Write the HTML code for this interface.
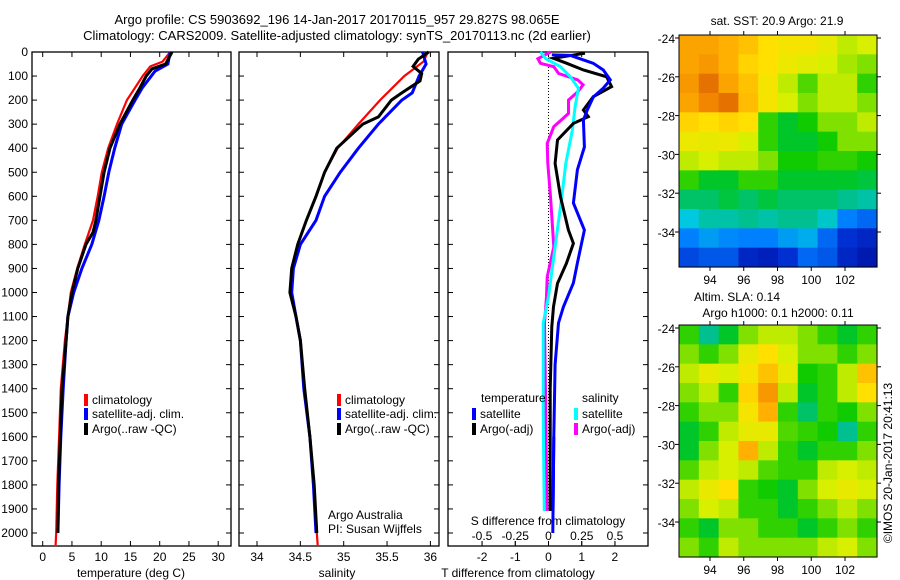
<!DOCTYPE html>
<html><head><meta charset="utf-8"><style>
body{margin:0;background:#fff}
svg{display:block;font-family:"Liberation Sans",sans-serif;font-size:12px}
</style></head><body>
<svg id="fig" width="900" height="580" viewBox="0 0 900 580" xmlns="http://www.w3.org/2000/svg">
<text x="337" y="24" text-anchor="middle" font-size="13">Argo profile: CS 5903692_196 14-Jan-2017 20170115_957 29.827S 98.065E</text>
<text x="337" y="40" text-anchor="middle" font-size="13">Climatology: CARS2009. Satellite-adjusted climatology: synTS_20170113.nc (2d earlier)</text>
<g id="p1"></g>
<g id="p2"></g>
<g id="p3"></g>
<g id="m1"></g>
<g id="m2"></g>
<text transform="translate(892,463) rotate(-90)" text-anchor="middle">©IMOS 20-Jan-2017 20:41:13</text>
</svg>
<script>
// ---- data ----
const depthTicks=[0,100,200,300,400,500,600,700,800,900,1000,1100,1200,1300,1400,1500,1600,1700,1800,1900,2000];
const tempTicks=[0,5,10,15,20,25,30];
const salTicks=[34,34.5,35,35.5,36];
const tdiffTicks=[-2,-1,0,1,2];
const sdiffTicks=[-0.5,-0.25,0,0.25,0.5];
const tClimDepth=[0,40,60,100,200,300,400,500,600,700,800,900,1000,1200,1400,1600,1800,2000,2050];
const tClim=[21.8,20.5,18.4,17.1,14.4,12.7,11.2,10.1,9.4,8.6,7.2,5.9,4.8,3.8,3.1,2.8,2.5,2.3,2.2];
const tSatDepth=[0,50,80,150,200,300,400,500,600,700,800,900,1000,1100,1200,1400,1600,1800,2000];
const tSat=[21.8,21.4,19.2,17,15.8,13.5,12.3,11.3,10.5,9.6,8.4,6.7,5.3,4.3,4.0,3.5,3.1,2.8,2.6];
const tArgoDepth=[0,50,70,100,150,200,300,400,500,600,700,750,800,900,1000,1100,1200,1400,1600,1800,2000];
const tArgo=[22.1,21,18.7,17.7,16.6,15.4,13.2,11.5,10.5,9.8,9.1,8.6,7.4,6.0,5.0,4.3,4.0,3.3,3.0,2.7,2.6];
const sClimDepth=[0,40,100,200,300,400,500,600,700,800,900,1000,1100,1200,1400,1600,1800,2000,2050];
const sClim=[35.97,35.92,35.7,35.42,35.17,34.93,34.78,34.68,34.57,34.47,34.4,34.38,34.45,34.5,34.55,34.61,34.66,34.69,34.7];
const sSatDepth=[0,50,100,170,200,300,400,500,600,700,800,900,1000,1100,1200,1400,1600,1800,2000];
const sSat=[35.91,35.95,35.87,35.79,35.67,35.4,35.17,34.96,34.78,34.68,34.5,34.42,34.4,34.45,34.5,34.54,34.61,34.65,34.68];
const sArgoDepth=[0,30,60,90,120,170,200,270,300,400,500,600,700,800,900,1000,1100,1200,1400,1600,1800,2000];
const sArgo=[35.98,35.86,35.8,35.9,35.88,35.67,35.55,35.4,35.22,34.92,34.78,34.68,34.57,34.47,34.4,34.38,34.45,34.5,34.55,34.61,34.66,34.69];
const dTSatDepth=[12,14,47,75,116,150,187,241,283,395,490,628,740,877,960,1060,1127,1300,1600,2000];
const dTSat=[0.1,0.66,1.35,1.65,1.86,1.65,1.35,1.17,1.05,1.08,0.87,0.75,1.08,0.87,0.75,0.45,0.3,0.2,0.16,0.13];
const dTArgoDepth=[5,26,47,75,103,144,186,241,269,297,366,463,602,740,796,879,962,1059,1142,1400,2000];
const dTArgo=[1.1,0.15,0.55,1.05,1.75,1.9,1.35,1.05,1.2,0.75,0.27,0.2,0.36,0.6,0.75,0.54,0.27,0.15,0.1,0.05,0.05];
const dSSatDepth=[0,28,61,103,151,227,324,463,602,810,1017,1128,1500,2000];
const dSSat=[-0.06,-0.02,0.09,0.165,0.225,0.2,0.18,0.13,0.1,0.05,0.0,-0.04,-0.04,-0.03];
const dSArgoDepth=[0,28,47,61,89,116,137,165,200,255,276,310,380,463,602,810,935,1017,1128,1500,2000];
const dSArgo=[0.015,-0.08,-0.06,0.04,0.075,0.22,0.26,0.22,0.15,0.15,0.11,0.04,-0.01,-0.005,0.015,0.04,-0.01,-0.015,-0.03,-0.02,-0.01];
const lonTicks=[94,96,98,100,102];
const latTicks=[-24,-26,-28,-30,-32,-34];
const sstGrid=[
[0.8,0.8,0.78,0.75,0.7,0.68,0.68,0.65,0.6,0.62],
[0.8,0.82,0.78,0.72,0.7,0.66,0.64,0.62,0.58,0.55],
[0.82,0.88,0.8,0.75,0.68,0.6,0.52,0.6,0.6,0.5],
[0.8,0.85,0.88,0.76,0.68,0.62,0.55,0.6,0.6,0.55],
[0.72,0.7,0.72,0.7,0.5,0.45,0.48,0.55,0.55,0.6],
[0.66,0.65,0.66,0.62,0.5,0.45,0.45,0.48,0.55,0.55],
[0.6,0.62,0.6,0.6,0.55,0.48,0.48,0.5,0.5,0.48],
[0.5,0.45,0.45,0.5,0.5,0.45,0.45,0.45,0.45,0.44],
[0.42,0.42,0.44,0.42,0.44,0.42,0.42,0.42,0.4,0.38],
[0.33,0.38,0.38,0.4,0.38,0.4,0.4,0.35,0.25,0.22],
[0.25,0.28,0.26,0.25,0.25,0.28,0.3,0.22,0.15,0.12],
[0.18,0.2,0.2,0.12,0.1,0.15,0.22,0.2,0.12,0.08]];
const slaGrid=[
[0.5,0.4,0.45,0.55,0.6,0.6,0.55,0.5,0.45,0.5],
[0.55,0.5,0.55,0.65,0.7,0.62,0.55,0.55,0.5,0.55],
[0.6,0.65,0.62,0.68,0.75,0.65,0.48,0.5,0.6,0.75],
[0.55,0.6,0.5,0.72,0.82,0.6,0.45,0.5,0.6,0.7],
[0.5,0.55,0.55,0.68,0.78,0.5,0.42,0.5,0.48,0.55],
[0.45,0.5,0.6,0.65,0.65,0.52,0.5,0.48,0.4,0.5],
[0.45,0.55,0.62,0.78,0.6,0.5,0.45,0.5,0.5,0.55],
[0.52,0.6,0.62,0.6,0.52,0.5,0.5,0.6,0.62,0.6],
[0.6,0.65,0.7,0.5,0.48,0.45,0.55,0.62,0.65,0.62],
[0.55,0.62,0.6,0.5,0.5,0.45,0.5,0.55,0.6,0.55],
[0.5,0.45,0.55,0.55,0.5,0.5,0.45,0.5,0.55,0.5],
[0.55,0.5,0.6,0.55,0.55,0.55,0.55,0.6,0.62,0.55]];

const NS='http://www.w3.org/2000/svg';
function mk(parent,tag,attrs,txt){const e=document.createElementNS(NS,tag);for(const k in attrs)e.setAttribute(k,attrs[k]);if(txt!==undefined)e.textContent=txt;parent.appendChild(e);return e;}
const yD=d=>52+d*0.2405;
const PT=546;
function frame(g,x0,x1){const r=mk(g,'rect',{x:x0,y:52,width:x1-x0,height:PT-52,fill:'none',stroke:'#000','stroke-width':1.3});


depthTicks.forEach(d=>{mk(g,'line',{x1:x0,x2:x0+5,y1:yD(d),y2:yD(d),stroke:'#000'});mk(g,'line',{x1:x1,x2:x1-5,y1:yD(d),y2:yD(d),stroke:'#000'});});}
function xticks(g,vals,fx,lbl,fmt){vals.forEach(v=>{const x=fx(v);mk(g,'line',{x1:x,x2:x,y1:PT,y2:PT-5,stroke:'#000'});mk(g,'line',{x1:x,x2:x,y1:52,y2:57,stroke:'#000'});
const t=mk(g,'text',{x:x,y:561,'text-anchor':'middle'},fmt?fmt(v):String(v));

});}
function line(g,xs,ds,fx,col,w,name){const pts=xs.map((v,i)=>fx(v).toFixed(1)+','+yD(ds[i]).toFixed(1)).join(' ');
const p=mk(g,'polyline',{points:pts,fill:'none',stroke:col,'stroke-width':w,'stroke-linejoin':'miter'});

}
function legend(g,x,y,col,label){mk(g,'rect',{x:x,y:y-10,width:4,height:12,fill:col});const t=mk(g,'text',{x:x+8,y:y},label);

}

// panel 1
const p1=document.getElementById('p1');
const fT=v=>42.7+v*5.85;
frame(p1,32,231);
depthTicks.forEach(d=>{const t=mk(p1,'text',{x:28,y:yD(d)+4,'text-anchor':'end'},String(d));

});
xticks(p1,tempTicks,fT);
mk(p1,'text',{x:131,y:577,'text-anchor':'middle'},'temperature (deg C)');
line(p1,tClim,tClimDepth,fT,'#f00',2.2,'temp-climatology-line');
line(p1,tSat,tSatDepth,fT,'#00f',3,'temp-satellite-line');
line(p1,tArgo,tArgoDepth,fT,'#000',3,'temp-argo-line');
legend(p1,84,404,'#f00','climatology');legend(p1,84,418,'#00f','satellite-adj. clim.');legend(p1,84,433,'#000','Argo(..raw -QC)');

// panel 2
const p2=document.getElementById('p2');
const fS=v=>257+(v-34)*86.7;
frame(p2,239,439);
xticks(p2,salTicks,fS);
mk(p2,'text',{x:337,y:577,'text-anchor':'middle'},'salinity');
line(p2,sClim,sClimDepth,fS,'#f00',2.2,'sal-climatology-line');
line(p2,sSat,sSatDepth,fS,'#00f',3,'sal-satellite-line');
line(p2,sArgo,sArgoDepth,fS,'#000',3,'sal-argo-line');
legend(p2,337,404,'#f00','climatology');legend(p2,337,418,'#00f','satellite-adj. clim.');legend(p2,337,433,'#000','Argo(..raw -QC)');
mk(p2,'text',{x:328,y:519},'Argo Australia');
mk(p2,'text',{x:328,y:533},'PI: Susan Wijffels');

// panel 3
const p3=document.getElementById('p3');
const fDT=v=>548.5+v*33.2;
const fDS=v=>548.5+v*133;
frame(p3,448,648);
mk(p3,'line',{x1:548.5,x2:548.5,y1:52,y2:PT,stroke:'#000','stroke-dasharray':'1,2'});
xticks(p3,tdiffTicks,fDT);
mk(p3,'text',{x:518,y:577,'text-anchor':'middle'},'T difference from climatology');
line(p3,dSArgo,dSArgoDepth,fDS,'#f0f',3,'sdiff-argo-line');
line(p3,dSSat,dSSatDepth,fDS,'#0ff',3,'sdiff-satellite-line');
line(p3,dTArgo,dTArgoDepth,fDT,'#000',3,'tdiff-argo-line');
line(p3,dTSat,dTSatDepth,fDT,'#00f',3,'tdiff-satellite-line');
const sb=mk(p3,'rect',{x:460,y:511,width:180,height:30,fill:'#fff'});
mk(p3,'text',{x:548,y:525,'text-anchor':'middle'},'S difference from climatology');
sdiffTicks.forEach(v=>{const x=fDS(v);mk(p3,'line',{x1:x,x2:x,y1:545,y2:541,stroke:'#000'});const t=mk(p3,'text',{x:x,y:540,'text-anchor':'middle'},v===0?'0':String(v));

});
line(p3,dTSat.slice(-2),dTSatDepth.slice(-2),fDT,'#00f',3,'tdiff-satellite-tail');
mk(p3,'text',{x:481,y:402},'temperature');mk(p3,'text',{x:582,y:402},'salinity');
legend(p3,472,418,'#00f','satellite');legend(p3,472,433,'#000','Argo(-adj)');
legend(p3,574,418,'#0ff','satellite');legend(p3,574,433,'#f0f','Argo(-adj)');

// maps
const cmapStops=[[0,[0,0,140]],[0.15,[0,48,210]],[0.25,[0,128,255]],[0.33,[0,200,224]],[0.4,[0,192,144]],[0.47,[0,200,0]],[0.55,[128,224,0]],[0.62,[216,240,0]],[0.7,[255,224,0]],[0.78,[255,176,0]],[0.86,[240,128,0]],[0.95,[192,64,0]]];
function cmap(v){for(let i=1;i<cmapStops.length;i++){if(v<=cmapStops[i][0]){const a=cmapStops[i-1],b=cmapStops[i];const t=(v-a[0])/(b[0]-a[0]);const c=a[1].map((x,k)=>Math.round(x+(b[1][k]-x)*t));return 'rgb('+c.join(',')+')';}}return 'rgb(192,64,0)';}
function map(g,oy,grid,titles){const x0=679,x1=877,y0=35+oy,y1=267+oy;
const fx=lon=>710+(lon-94)*16.875, fy=lat=>38+oy+(-24-lat)*19.4;
const rows=grid.length,cols=grid[0].length,cw=(x1-x0)/cols,ch=(y1-y0)/rows;
grid.forEach((row,r)=>row.forEach((v,c)=>{const e=mk(g,'rect',{x:x0+c*cw,y:y0+r*ch,width:cw+0.6,height:ch+0.6,fill:cmap(v)});

}));
mk(g,'rect',{x:x0,y:y0,width:x1-x0,height:y1-y0,fill:'none',stroke:'#000'});
lonTicks.forEach(l=>{const x=fx(l);mk(g,'line',{x1:x,x2:x,y1:y0,y2:y0-4,stroke:'#000'});mk(g,'line',{x1:x,x2:x,y1:y1,y2:y1+4,stroke:'#000'});
const t=mk(g,'text',{x:x,y:y1+17,'text-anchor':'middle'},String(l));

});
latTicks.forEach(l=>{const y=fy(l);mk(g,'line',{x1:x0,x2:x0-4,y1:y,y2:y,stroke:'#000'});mk(g,'line',{x1:x1,x2:x1+4,y1:y,y2:y,stroke:'#000'});
const t=mk(g,'text',{x:x0-4,y:y+5,'text-anchor':'end'},String(l));

});
titles.forEach(tt=>{const t=mk(g,'text',{x:tt[0],y:tt[1]+oy,'text-anchor':'middle'},tt[2]);

});}
map(document.getElementById('m1'),0,sstGrid,[[777,25,'sat. SST: 20.9 Argo: 21.9']]);
map(document.getElementById('m2'),290,slaGrid,[[737,11,'Altim. SLA: 0.14'],[778,27,'Argo h1000: 0.1 h2000: 0.11']]);
</script>
</body></html>
